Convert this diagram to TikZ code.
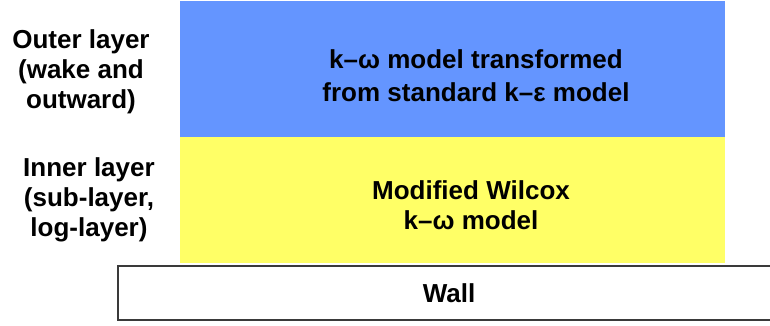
\documentclass[tikz,border=0pt]{standalone}
\usepackage{fontspec}
\setmainfont{Liberation Sans}
\definecolor{outerblue}{HTML}{6495FF}
\definecolor{inneryellow}{HTML}{FFFF66}
\definecolor{wallgray}{HTML}{3A3A3A}
\begin{document}
\begin{tikzpicture}[x=1pt,y=-1pt,
  lbl/.style={align=center,inner sep=0pt,font=\fontsize{26}{30}\selectfont\bfseries},
  layer/.style={draw=none,inner sep=0pt}]
\useasboundingbox (0,0) rectangle (770,325);
\begin{scope}
\clip (0,0) rectangle (770,325);
\fill[outerblue] (180,1) rectangle (725,137);
\fill[inneryellow] (180,137) rectangle (725,263);
\draw[wallgray,line width=2pt,fill=white] (118,266) rectangle (780,320);
\end{scope}
\node[lbl,font=\fontsize{26}{33}\selectfont\bfseries] (outer) at (476,76) {k–ω model transformed\\from standard k–ε model};
\node[lbl] (inner) at (471,205) {Modified Wilcox\\k–ω model};
\node[lbl] (wall) at (449,293) {Wall};
\node[lbl] (outerlbl) at (81,72) {Outer layer\\(wake and\\outward)};
\node[lbl] (innerlbl) at (89,200) {Inner layer\\(sub-layer,\\log-layer)};
\end{tikzpicture}
\end{document}
